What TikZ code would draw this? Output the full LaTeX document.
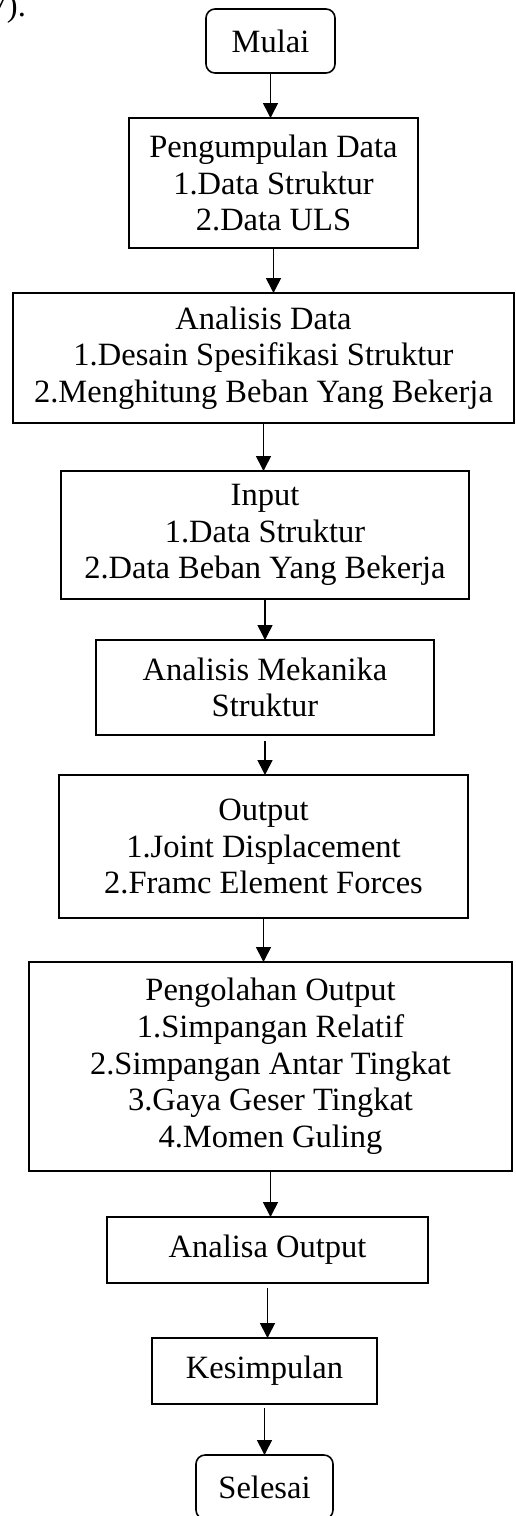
\documentclass[tikz,border=0pt]{standalone}
\usepackage{fontspec}
\setmainfont{Liberation Serif}
\usetikzlibrary{shapes,arrows.meta,positioning}
\tikzstyle{block} = [rectangle, draw, line width=1.6pt, align=center, inner sep=0pt, outer sep=0pt, font=\fontsize{32.5}{36.7}\selectfont]
\tikzstyle{term} = [block, rounded corners=9pt]
\tikzstyle{line} = [draw, line width=1.6pt, -{Triangle[width=15pt,length=15pt]}]

\begin{document}
\begin{tikzpicture}
    \useasboundingbox (0,0) rectangle (515pt,-1516pt);
    \clip (0,0) rectangle (515pt,-1516pt);
    \node [anchor=base west, font=\fontsize{32.5}{36.7}\selectfont, inner sep=0pt] (prev) at (-9.5pt,-16pt) {7).};
    \node [term, minimum width=129pt, minimum height=64pt] (mulai) at (270.5pt,-41pt) {Mulai};
    \node [block, minimum width=289pt, minimum height=130pt, below=45pt of mulai, xshift=3pt] (kumpul) {Pengumpulan Data\\ 1.Data Struktur\\ 2.Data ULS};
    \node [block, minimum width=501pt, minimum height=130pt, below=45pt of kumpul, xshift=-10pt] (analisis) {Analisis Data\\ 1.Desain Spesifikasi Struktur\\ 2.Menghitung Beban Yang Bekerja};
    \node [block, minimum width=408pt, minimum height=128pt, below=48pt of analisis, xshift=1.5pt] (input) {Input\\ 1.Data Struktur\\ 2.Data Beban Yang Bekerja};
    \node [block, minimum width=338pt, minimum height=95pt, below=41pt of input] (mekanika) {Analisis Mekanika\\ Struktur};
    \node [block, minimum width=409pt, minimum height=143pt, below=40pt of mekanika, xshift=-1.5pt] (output) {Output\\ 1.Joint Displacement\\ 2.Framc Element Forces};
    \node [block, minimum width=483pt, minimum height=209pt, below=44pt of output, xshift=7pt] (olah) {Pengolahan Output\\ 1.Simpangan Relatif\\ 2.Simpangan Antar Tingkat\\ 3.Gaya Geser Tingkat\\ 4.Momen Guling};
    \node [block, minimum width=321pt, minimum height=66pt, below=46pt of olah, xshift=-3pt] (analisa) {Analisa Output};
    \node [block, minimum width=225pt, minimum height=66pt, below=55pt of analisa, xshift=-3pt] (simpul) {Kesimpulan};
    \node [term, minimum width=137pt, minimum height=64pt, below=51pt of simpul] (selesai) {Selesai};
    \path [line] (mulai.south) -- (mulai.south |- kumpul.north);
    \path [line] (kumpul.south) -- (kumpul.south |- analisis.north);
    \path [line] (analisis.south) -- (analisis.south |- input.north);
    \path [line] (input.south) -- (input.south |- mekanika.north);
    \path [line, shorten <=6pt] (mekanika.south) -- (mekanika.south |- output.north);
    \path [line] (output.south) -- (output.south |- olah.north);
    \path [line] (olah.south) -- (olah.south |- analisa.north);
    \path [line, shorten <=5pt] (analisa.south) -- (analisa.south |- simpul.north);
    \path [line, shorten <=4pt] (simpul.south) -- (simpul.south |- selesai.north);
\end{tikzpicture}
\end{document}
